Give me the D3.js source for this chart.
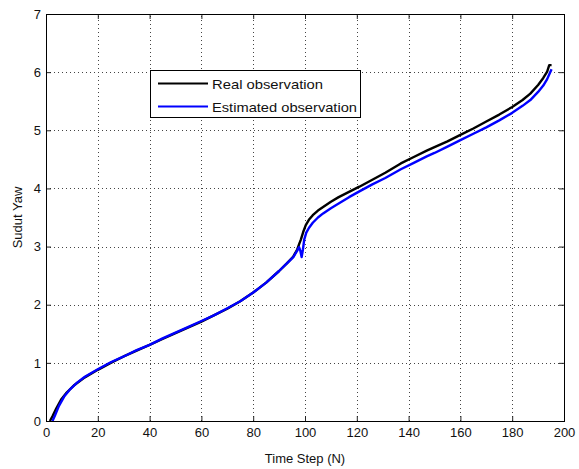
<!DOCTYPE html>
<html>
<head>
<meta charset="utf-8">
<script src="https://cdn.jsdelivr.net/npm/d3@7"></script>
<style>
  html, body { margin: 0; padding: 0; background: #fff; }
  svg { display: block; font-family: "Liberation Sans", Arial, sans-serif; }
</style>
</head>
<body>
<svg id="chart" width="579" height="469"></svg>
<script>
// Time steps and yaw values for the real observation
const realSteps = [1.5, 2.5, 4, 6, 8, 11, 15, 20, 25, 30, 35, 40, 45, 50, 55, 60, 65,
  70, 75, 80, 85, 90, 93, 95.5, 97, 97.8, 98.4, 99.3, 100.3, 101.5, 103, 105, 107,
  110, 113, 117, 121, 126, 131, 137, 142, 147, 150, 155, 160, 165, 170, 175, 180,
  184, 187, 190, 192, 193.5, 194.3, 195.2];
const realYaw = [0, 0.08, 0.22, 0.38, 0.49, 0.62, 0.75, 0.88, 1.0, 1.11, 1.21, 1.31, 1.41, 1.51, 1.61, 1.71, 1.82,
  1.93, 2.06, 2.21, 2.38, 2.58, 2.71, 2.83, 2.95, 3.05, 3.12, 3.25, 3.37, 3.46, 3.54, 3.62, 3.68,
  3.77, 3.85, 3.94, 4.03, 4.15, 4.27, 4.43, 4.54, 4.65, 4.71, 4.81, 4.92, 5.03, 5.15, 5.27, 5.40,
  5.52, 5.63, 5.78, 5.90, 6.01, 6.12, 6.12];

// Time steps and yaw values for the estimated observation
const estSteps = [2.5, 3.5, 5, 7, 9, 12, 15, 20, 25, 30, 35, 40, 45, 50, 55, 60, 65,
  70, 75, 80, 85, 90, 93, 95.5, 97, 97.7, 98.2, 98.7, 99.2, 99.7, 100.5, 101.5, 103,
  105, 107, 110, 113, 117, 121, 126, 131, 137, 142, 147, 150, 155, 160, 165, 170,
  175, 180, 184, 187, 190, 192, 193.5, 194.5, 195.2];
const estYaw = [0, 0.1, 0.26, 0.42, 0.53, 0.66, 0.76, 0.89, 1.01, 1.11, 1.22, 1.31, 1.42, 1.52, 1.62, 1.72, 1.82,
  1.94, 2.06, 2.21, 2.38, 2.58, 2.71, 2.82, 2.93, 2.99, 2.93, 2.82, 2.95, 3.12, 3.24, 3.32, 3.41,
  3.50, 3.57, 3.66, 3.74, 3.85, 3.95, 4.07, 4.18, 4.33, 4.44, 4.55, 4.61, 4.72, 4.83, 4.94, 5.05,
  5.17, 5.30, 5.42, 5.52, 5.66, 5.77, 5.88, 5.98, 6.05];

const xTicks = [0, 20, 40, 60, 80, 100, 120, 140, 160, 180, 200];
const yTicks = [0, 1, 2, 3, 4, 5, 6, 7];
const seriesNames = ["Real observation", "Estimated observation"];
const seriesColors = ["#000000", "#0000ff"];
const xTitle = "Time Step (N)";
const yTitle = "Sudut Yaw";

const svg = d3.select("#chart");
const plotL = 46, plotR = 564, plotT = 14, plotB = 421;

const x = d3.scaleLinear().domain([0, 200]).range([plotL, plotR]);
const y = d3.scaleLinear().domain([0, 7]).range([plotB, plotT]);

svg.append("rect").attr("x", 0).attr("y", 0).attr("width", 579).attr("height", 469).attr("fill", "#fff");

// Dotted grid
const grid = svg.append("g").attr("stroke", "#444").attr("stroke-width", 1)
  .attr("stroke-dasharray", "1,3").attr("shape-rendering", "crispEdges");
grid.selectAll("line.v").data(xTicks.slice(1, -1)).join("line").attr("class", "v")
  .attr("x1", d => Math.round(x(d)) + 0.5).attr("x2", d => Math.round(x(d)) + 0.5)
  .attr("y1", plotB).attr("y2", plotT);
grid.selectAll("line.h").data(yTicks.slice(1, -1)).join("line").attr("class", "h")
  .attr("y1", d => Math.round(y(d)) + 0.5).attr("y2", d => Math.round(y(d)) + 0.5)
  .attr("x1", plotL).attr("x2", plotR);

// Series lines
const line = d3.line().x(d => x(d[0])).y(d => y(d[1]));
const realData = realSteps.map((s, i) => [s, realYaw[i]]);
const estData = estSteps.map((s, i) => [s, estYaw[i]]);
[realData, estData].forEach((data, i) => {
  svg.append("path").datum(data)
    .attr("fill", "none")
    .attr("stroke", seriesColors[i])
    .attr("stroke-width", 2.4)
    .attr("stroke-linejoin", "round")
    .attr("d", line);
});

// Axes with inward ticks on all four sides
function styleAxis(g) {
  g.select(".domain").remove();
  g.selectAll(".tick line").attr("stroke", "#222");
  g.selectAll(".tick text").attr("fill", "#111").attr("font-size", 13)
    .attr("font-family", "'Liberation Sans', Arial, sans-serif");
}
svg.append("g").attr("transform", `translate(0,${plotB})`)
  .call(d3.axisBottom(x).tickValues(xTicks).tickSize(-5).tickPadding(7).tickFormat(d3.format("d")))
  .call(styleAxis);
svg.append("g").attr("transform", `translate(${plotL},0)`)
  .call(d3.axisLeft(y).tickValues(yTicks).tickSize(-5).tickPadding(5).tickFormat(d3.format("d")))
  .call(styleAxis);
svg.append("g").attr("transform", `translate(0,${plotT})`)
  .call(d3.axisTop(x).tickValues(xTicks).tickSize(-5).tickFormat(""))
  .call(styleAxis);
svg.append("g").attr("transform", `translate(${plotR},0)`)
  .call(d3.axisRight(y).tickValues(yTicks).tickSize(-5).tickFormat(""))
  .call(styleAxis);

// Axes box
svg.append("rect").attr("x", plotL + 0.5).attr("y", plotT + 0.5)
  .attr("width", plotR - plotL).attr("height", plotB - plotT)
  .attr("fill", "none").attr("stroke", "#000").attr("stroke-width", 1);

// Axis titles
svg.append("text").attr("x", (plotL + plotR) / 2).attr("y", 463)
  .attr("text-anchor", "middle").attr("font-size", 13).attr("fill", "#111").text(xTitle);
svg.append("text").attr("transform", `translate(22,${(plotT + plotB) / 2}) rotate(-90)`)
  .attr("text-anchor", "middle").attr("font-size", 13).attr("fill", "#111").text(yTitle);

// Legend
const lg = svg.append("g").attr("transform", "translate(150,70)");
lg.append("rect").attr("x", 0.5).attr("y", 0.5).attr("width", 210).attr("height", 47)
  .attr("fill", "#fff").attr("stroke", "#000");
const textWidths = [111, 145];
seriesNames.forEach((name, i) => {
  const cy = 13.5 + i * 23;
  lg.append("line").attr("x1", 8).attr("x2", 58).attr("y1", cy).attr("y2", cy)
    .attr("stroke", seriesColors[i]).attr("stroke-width", 2);
  lg.append("text").attr("x", 62).attr("y", cy + 5).attr("font-size", 13).attr("fill", "#111")
    .attr("textLength", textWidths[i]).attr("lengthAdjust", "spacingAndGlyphs").text(name);
});
</script>
</body>
</html>
